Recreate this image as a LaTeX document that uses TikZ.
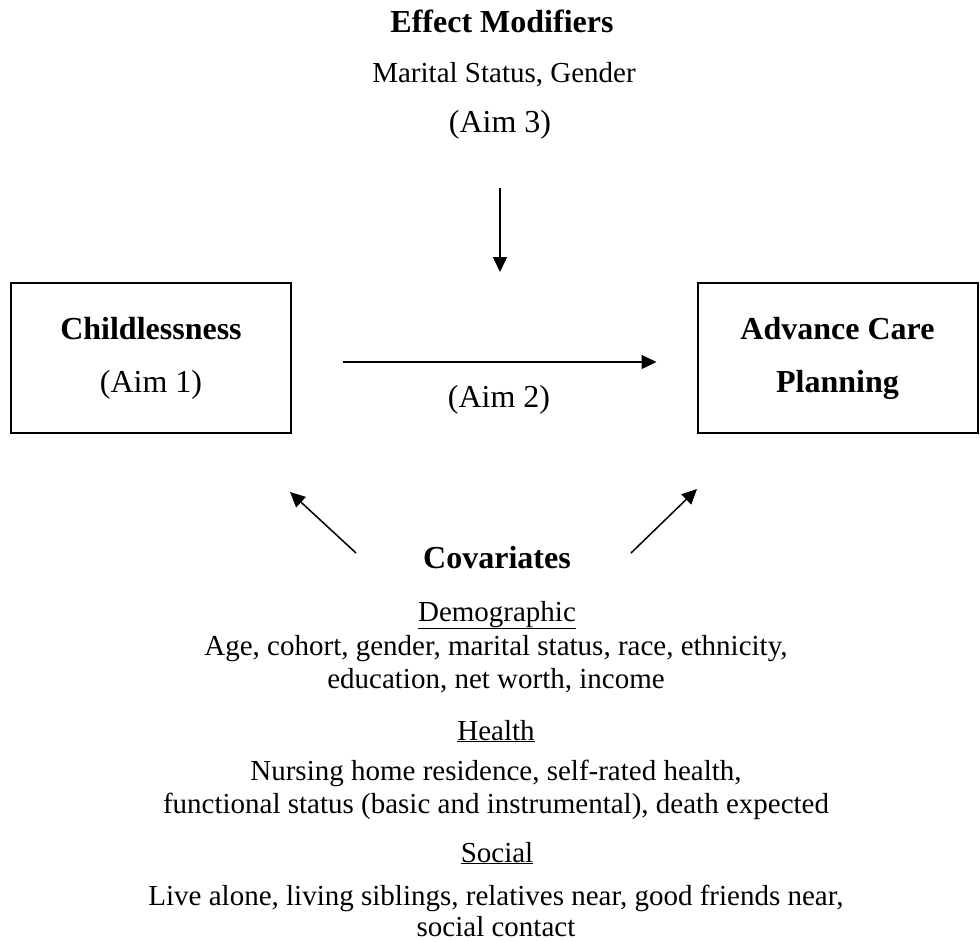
\documentclass[tikz,border=0pt]{standalone}
\usepackage{fontspec}
\setmainfont{Liberation Serif}
\usetikzlibrary{arrows.meta}
\newcommand{\hdfont}{\fontsize{32}{53}\selectfont}
\newcommand{\txtfont}{\fontsize{29}{33}\selectfont}
\tikzset{
  box/.style  ={draw, rectangle, minimum width=280pt, minimum height=150pt,
                align=center, line width=2pt, font=\hdfont},
  hd/.style   ={anchor=base, inner sep=0pt, font=\hdfont\bfseries},
  aim/.style  ={anchor=base, inner sep=0pt, font=\hdfont},
  txt/.style  ={anchor=base, inner sep=0pt, font=\txtfont},
  arr/.style  ={-{Triangle[length=15pt, width=14pt]}, line width=1.5pt},
}

\begin{document}
\begin{tikzpicture}[x=1pt, y=-1pt]
  \useasboundingbox (0,0) rectangle (980,942);
  % effect modifiers
  \node[hd]  (effmod) at (502,33)  {Effect Modifiers};
  \node[txt] (modlist) at (504,83) {Marital Status, Gender};
  \node[aim] (aim3) at (500,132)   {(Aim 3)};
  \coordinate (modend) at (500,272);
  \draw[arr, shorten <=49pt] (aim3.south) -- (modend);
  % exposure and outcome
  \node[box] (child) at (151,358) {\textbf{Childlessness}\\ (Aim 1)};
  \node[box, font=\hdfont\bfseries] (acp) at (837.5,358) {Advance Care\\ Planning};
  \draw[arr, shorten <=51pt, shorten >=40pt]
    ([yshift=-4pt]child.east) -- ([yshift=-4pt]acp.west);
  \node[aim] (aim2) at (499,407) {(Aim 2)};
  % covariates
  \node[hd] (cov) at (497,568) {Covariates};
  \coordinate (covL) at (356,553);
  \coordinate (covR) at (631,553);
  \coordinate (childtip) at (290,492);
  \coordinate (acptip) at (697,489);
  \draw[arr] (covL) -- (childtip);
  \draw[arr] (covR) -- (acptip);
  \node[txt] (demo)  at (497,621) {\underline{Demographic}};
  \node[txt] (demo1) at (496,655) {Age, cohort, gender, marital status, race, ethnicity,};
  \node[txt] (demo2) at (496,688) {education, net worth, income};
  \node[txt] (hlth)  at (496,740) {\underline{Health}};
  \node[txt] (hlth1) at (496,780) {Nursing home residence, self-rated health,};
  \node[txt] (hlth2) at (496,813) {functional status (basic and instrumental), death expected};
  \node[txt] (soc)   at (497,862) {\underline{Social}};
  \node[txt] (soc1)  at (496,905) {Live alone, living siblings, relatives near, good friends near,};
  \node[txt] (soc2)  at (496,936) {social contact};
\end{tikzpicture}
\end{document}
